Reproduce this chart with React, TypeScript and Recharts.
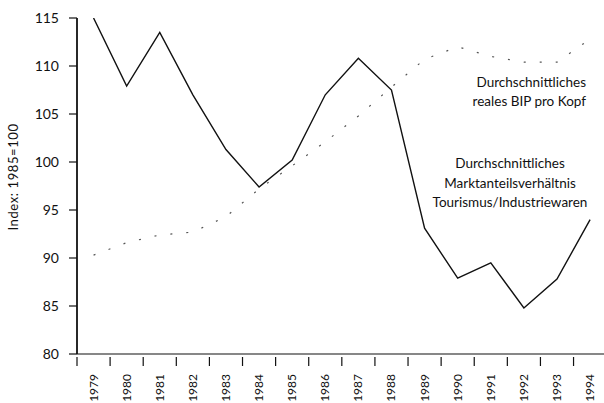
import React from 'react';
import { LineChart, Line, XAxis, YAxis, Customized } from 'recharts';

const years = [1979, 1980, 1981, 1982, 1983, 1984, 1985, 1986, 1987, 1988, 1989, 1990, 1991, 1992, 1993, 1994];
const marktanteil = [115, 107.9, 113.5, 107, 101.3, 97.4, 100.2, 107, 110.8, 107.5, 93.1, 87.9, 89.5, 84.8, 87.8, 94];
const bip = [90.3, 91.6, 92.4, 92.7, 94.3, 97.2, 99.6, 102.1, 104.8, 107.8, 110.7, 112, 111, 110.4, 110.4, 112.8];
const yTicks = [80, 85, 90, 95, 100, 105, 110, 115];
const boundaries = years.map((y) => y - 0.5);

const data = years.map((y, i) => ({ year: y, markt: marktanteil[i], bip: bip[i] }));

const FONT = 'Lato, "Open Sans", sans-serif';

const XTick = (props: any) => {
  const { x, y, payload } = props;
  const v = payload.value as number;
  if (Number.isInteger(v)) {
    return (
      <text
        x={x + 4}
        y={y + 12}
        transform={`rotate(-90 ${x + 4} ${y + 12})`}
        textAnchor="end"
        fontFamily={FONT}
        fontSize={12}
        fill="#111"
      >
        {v}
      </text>
    );
  }
  return <line x1={x} x2={x} y1={y - 5} y2={y + 4} stroke="#111" strokeWidth={1.2} />;
};

const YTick = (props: any) => {
  const { x, y, payload } = props;
  return (
    <g>
      <line x1={x + 0} x2={x + 8} y1={y} y2={y} stroke="#111" strokeWidth={1.2} />
      <text x={x - 10} y={y + 5} textAnchor="end" fontFamily={FONT} fontSize={14} fill="#111">
        {payload.value}
      </text>
    </g>
  );
};

const Notes = () => (
  <g fontFamily={FONT} fontSize={13.5} fill="#111">
    <text x={586} y={87} textAnchor="end">Durchschnittliches</text>
    <text x={586} y={106} textAnchor="end">reales BIP pro Kopf</text>
    <text x={510} y={168} textAnchor="middle">Durchschnittliches</text>
    <text x={510} y={188} textAnchor="middle">Marktanteilsverhältnis</text>
    <text x={510} y={207} textAnchor="middle">Tourismus/Industriewaren</text>
    <text
      x={18}
      y={177}
      transform="rotate(-90 18 177)"
      textAnchor="middle"
      fontSize={13}
      letterSpacing={0.6}
    >
      Index: 1985=100
    </text>
  </g>
);

export default function App() {
  return (
    <div style={{ position: 'absolute', left: 0, top: 0, background: '#fff' }}>
      <LineChart width={604} height={403} data={data} margin={{ top: 18, right: 0, left: 0, bottom: 0 }}>
        <XAxis
          dataKey="year"
          type="number"
          domain={[1978.5, 1994.42]}
          ticks={[...boundaries, ...years]}
          interval={0}
          height={49}
          tick={<XTick />}
          tickLine={false}
          axisLine={{ stroke: '#111', strokeWidth: 1.2 }}
          allowDataOverflow
        />
        <YAxis
          type="number"
          domain={[80, 115]}
          ticks={yTicks}
          interval={0}
          width={77}
          tick={<YTick />}
          tickLine={false}
          axisLine={{ stroke: '#111', strokeWidth: 1.8 }}
          allowDataOverflow
        />
        <Line
          dataKey="bip"
          stroke="#555"
          strokeWidth={1.2}
          strokeDasharray="2 14"
          dot={false}
          isAnimationActive={false}
        />
        <Line
          dataKey="markt"
          stroke="#111"
          strokeWidth={1.4}
          dot={false}
          isAnimationActive={false}
        />
        <Customized component={Notes} />
      </LineChart>
    </div>
  );
}
